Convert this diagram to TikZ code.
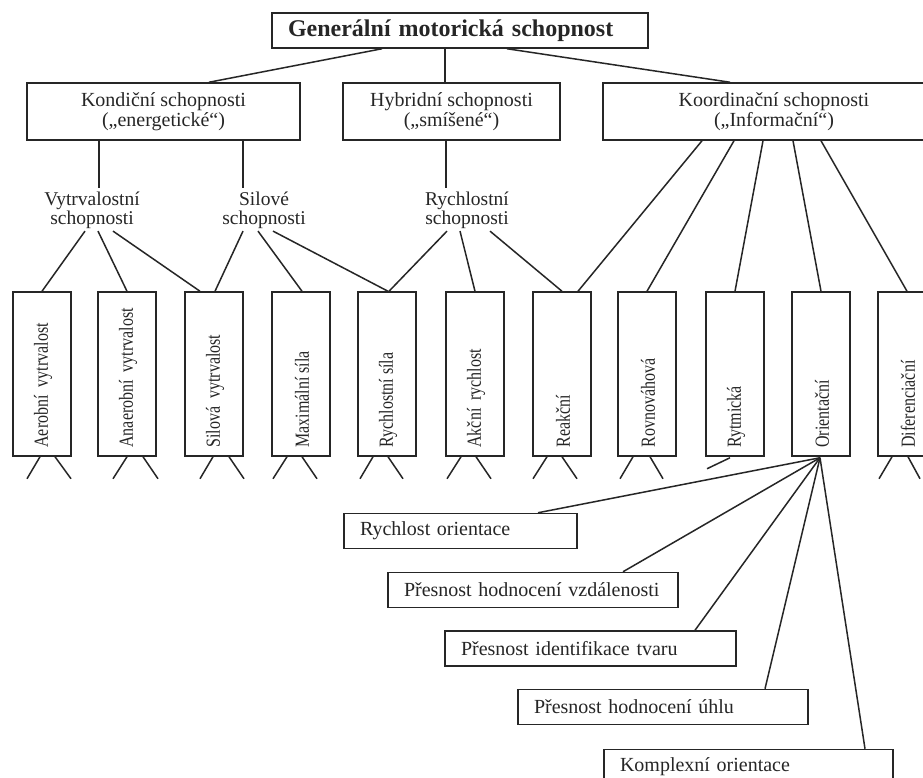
\documentclass[tikz,border=0pt]{standalone}
\usepackage{fontspec}
\setmainfont{Liberation Serif}
\usetikzlibrary{calc}
\newcommand\lvtwofont{\fontsize{20}{20}\selectfont}
\newcommand\lvthreefont{\fontsize{19.5}{19}\selectfont}
\newcommand\rotfont{\fontsize{16}{16}\selectfont}
\newcommand\listfont{\fontsize{20}{20}\selectfont}
\newcommand\tallrot[1]{\scalebox{1}[1.25]{#1}}
\begin{document}
\begin{tikzpicture}[x=1pt,y=-1pt,
  box/.style={draw=black!85, line width=1.5pt, rectangle, inner sep=0pt, text=black!85},
  vbox/.style={box, minimum width=58pt, minimum height=164pt},
  lbox/.style={box, inner xsep=16pt, inner ysep=0pt, align=left, minimum height=35pt, font=\listfont},
  conn/.style={draw=black!85, line width=1.5pt},
  lab/.style={align=center, inner sep=0pt, anchor=north, font=\lvthreefont, text=black!85},
  rot/.style={anchor=west, rotate=90, inner sep=0pt, font=\rotfont, text=black!85}]
\useasboundingbox (0,0) rectangle (923,778);
\fill[white] (0,0) rectangle (923,778);
\clip (0,0) rectangle (923,778);

% top
\node[box, inner xsep=16pt, text width=344pt, align=left, minimum height=35pt, font=\fontsize{24}{24}\selectfont\bfseries] (gen) at (460,30.5) {Generální motorická schopnost};

% level 2
\node[box, minimum width=273pt, minimum height=57pt, align=center, font=\lvtwofont] (kond) at (163.5,111.5) {Kondiční schopnosti\\(„energetické“)};
\node[box, minimum width=217pt, minimum height=57pt, align=center, font=\lvtwofont] (hyb) at (451.5,111.5) {Hybridní schopnosti\\(„smíšené“)};
\node[box, minimum width=342pt, minimum height=57pt, align=center, font=\lvtwofont] (koord) at (774,111.5) {Koordinační schopnosti\\(„Informační“)};

\draw[conn] ($(gen.south)+(-78,0)$) -- ($(kond.north)+(45.5,0)$);
\draw[conn] ($(gen.south)+(-15,0)$) -- ($(hyb.north)+(-6.5,0)$);
\draw[conn] ($(gen.south)+(47,0)$) -- ($(koord.north)+(-44,0)$);

% level 3 labels
\node[lab] (vyt) at (92,192) {Vytrvalostní\\schopnosti};
\node[lab] (sil) at (264,192) {Silové\\schopnosti};
\node[lab] (ryc) at (467,192) {Rychlostní\\schopnosti};

\draw[conn] ($(kond.south)+(-64.5,0)$) -- ++(0,47);
\draw[conn] ($(kond.south)+(79.5,0)$) -- ++(0,47);
\draw[conn] ($(hyb.south)+(-5.5,0)$) -- ++(0,47);

% vertical boxes
\node[vbox] (aer) at (42,374) {};
\node[vbox] (ana) at (127,374) {};
\node[vbox] (silv) at (214,374) {};
\node[vbox] (max) at (301,374) {};
\node[vbox] (rs) at (387,374) {};
\node[vbox] (akc) at (475,374) {};
\node[vbox] (rea) at (562,374) {};
\node[vbox] (rov) at (647,374) {};
\node[vbox] (ryt) at (735,374) {};
\node[vbox] (ori) at (821,374) {};
\node[vbox] (dif) at (907,374) {};

\node[rot] (aerT) at ($(aer.south)+(1,-9)$) {\tallrot{Aerobní\ \ vytrvalost}};
\node[rot] (anaT) at ($(ana.south)+(1,-9)$) {\tallrot{Anaerobní\ \ vytrvalost}};
\node[rot] (silvT) at ($(silv.south)+(1,-9)$) {\tallrot{Silová\ \ vytrvalost}};
\node[rot] (maxT) at ($(max.south)+(1,-9)$) {\tallrot{Maximální síla}};
\node[rot] (rsT) at ($(rs.south)+(1,-9)$) {\tallrot{Rychlostní síla}};
\node[rot] (akcT) at ($(akc.south)+(1,-9)$) {\tallrot{Akční\ \ rychlost}};
\node[rot] (reaT) at ($(rea.south)+(1,-9)$) {\tallrot{Reakční}};
\node[rot] (rovT) at ($(rov.south)+(1,-9)$) {\tallrot{Rovnováhová}};
\node[rot] (rytT) at ($(ryt.south)+(1,-9)$) {\tallrot{Rytmická}};
\node[rot] (oriT) at ($(ori.south)+(1,-9)$) {\tallrot{Orientační}};
\node[rot] (difT) at ($(dif.south)+(1,-9)$) {\tallrot{Diferenciační}};

% level 3 -> boxes
\draw[conn] ($(vyt.south)+(-7,2)$) -- (aer.north);
\draw[conn] ($(vyt.south)+(6,2)$) -- (ana.north);
\draw[conn] ($(vyt.south)+(21,2)$) -- ($(silv.north)+(-14,0)$);
\draw[conn] ($(sil.south)+(-21,2)$) -- ($(silv.north)+(1,0)$);
\draw[conn] ($(sil.south)+(-6,2)$) -- ($(max.north)+(1,0)$);
\draw[conn] ($(sil.south)+(9,2)$) -- ($(rs.north)+(1,0)$);
\draw[conn] ($(ryc.south)+(-20,2)$) -- ($(rs.north)+(2,0)$);
\draw[conn] ($(ryc.south)+(-7,2)$) -- (akc.north);
\draw[conn] ($(ryc.south)+(23,2)$) -- (rea.north);
\draw[conn] ($(koord.south)+(-72,0)$) -- ($(rea.north)+(16,0)$);
\draw[conn] ($(koord.south)+(-40,0)$) -- (rov.north);
\draw[conn] ($(koord.south)+(-11,0)$) -- (ryt.north);
\draw[conn] ($(koord.south)+(19,0)$) -- (ori.north);
\draw[conn] ($(koord.south)+(47,0)$) -- (dif.north);

% legs
\draw[conn] ($(aer.south)+(-2,0)$) -- ++(-13,22);
\draw[conn] ($(aer.south)+(13,0)$) -- ++(16,22);
\draw[conn] ($(ana.south)+(0,0)$) -- ++(-14,22);
\draw[conn] ($(ana.south)+(16,0)$) -- ++(15,22);
\draw[conn] ($(silv.south)+(-1,0)$) -- ++(-13,22);
\draw[conn] ($(silv.south)+(15,0)$) -- ++(15,22);
\draw[conn] ($(max.south)+(-14,0)$) -- ++(-14,22);
\draw[conn] ($(max.south)+(1,0)$) -- ++(15,22);
\draw[conn] ($(rs.south)+(-14,0)$) -- ++(-13,22);
\draw[conn] ($(rs.south)+(1,0)$) -- ++(15,22);
\draw[conn] ($(akc.south)+(-14,0)$) -- ++(-14,22);
\draw[conn] ($(akc.south)+(1,0)$) -- ++(15,22);
\draw[conn] ($(rea.south)+(-15,0)$) -- ++(-14,22);
\draw[conn] ($(rea.south)+(0,0)$) -- ++(15,22);
\draw[conn] ($(rov.south)+(-14,0)$) -- ++(-13,22);
\draw[conn] ($(rov.south)+(3,0)$) -- ++(13,22);
\draw[conn] ($(dif.south)+(-15,0)$) -- ++(-13,22);
\draw[conn] ($(dif.south)+(1,0)$) -- ++(12,22);
\draw[conn] ($(ryt.south)+(-5,1)$) -- ++(-23,11);

% lower list
\node[lbox, text width=201pt] (ro) at (460.5,531) {Rychlost orientace};
\node[lbox, text width=258pt] (phv) at (533,590) {Přesnost hodnocení vzdálenosti};
\node[lbox, text width=259pt] (pit) at (590.5,648.5) {Přesnost identifikace tvaru};
\node[lbox, text width=258pt] (phu) at (663,707) {Přesnost hodnocení úhlu};
\node[lbox, text width=257pt] (ko) at (748.5,767) {Komplexní orientace};

\coordinate (fan) at ($(ori.south)+(-1,1)$);
\draw[conn] (fan) -- ($(ro.north)+(77.5,0)$);
\draw[conn] (fan) -- ($(phv.north)+(90,0)$);
\draw[conn] (fan) -- ($(pit.north)+(104.5,0)$);
\draw[conn] (fan) -- ($(phu.north)+(102,0)$);
\draw[conn] (fan) -- ($(ko.north)+(116.5,0)$);
\end{tikzpicture}
\end{document}
